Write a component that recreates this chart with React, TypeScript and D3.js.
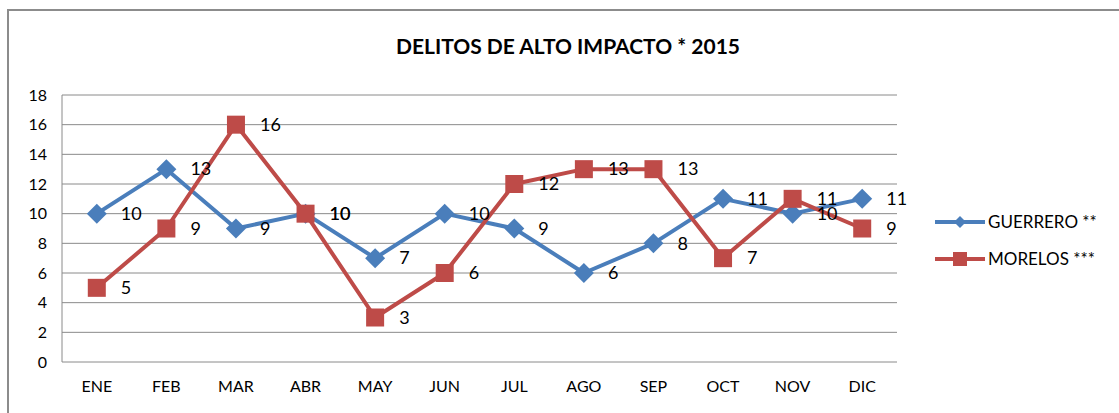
import { useMemo } from "react";
import * as d3 from "d3";

const months = ["ENE", "FEB", "MAR", "ABR", "MAY", "JUN", "JUL", "AGO", "SEP", "OCT", "NOV", "DIC"];
const guerrero = [10, 13, 9, 10, 7, 10, 9, 6, 8, 11, 10, 11];
const morelos = [5, 9, 16, 10, 3, 6, 12, 13, 13, 7, 11, 9];
const yTicks = [0, 2, 4, 6, 8, 10, 12, 14, 16, 18];

const BLUE = "#4a7ebb";
const RED = "#be4b48";
const FONT = "Lato, 'Liberation Sans', sans-serif";

export default function App() {
    const W = 1119, H = 413;
    const plot = { left: 62, right: 897, top: 95, bottom: 362 };

    const x = useMemo(() => d3.scaleBand<string>()
        .domain(months)
        .range([plot.left, plot.right]), []);
    const y = useMemo(() => d3.scaleLinear()
        .domain([0, 18])
        .range([plot.bottom, plot.top]), []);

    const cx = (m: string) => (x(m) ?? 0) + x.bandwidth() / 2;
    const line = d3.line<number>()
        .x((_, i) => cx(months[i]))
        .y(d => y(d));

    const diamond = (px: number, py: number, r: number) =>
        `M${px},${py - r}L${px + r},${py}L${px},${py + r}L${px - r},${py}Z`;

    return <svg width={W} height={H} style={{ position: "absolute", left: 0, top: 0 }} fontFamily={FONT}>
        <rect x={0} y={0} width={W} height={H} fill="white" />
        <rect x={8} y={10} width={1130} height={420} fill="none" stroke="#8c8c8c" strokeWidth={2} />
        <text x={568} y={54} textAnchor="middle" fontSize={21} fontWeight="bold" fill="#000">
            DELITOS DE ALTO IMPACTO * 2015
        </text>

        {/* grid */}
        {yTicks.map(t => <g key={t}>
            <line x1={plot.left} x2={plot.right} y1={y(t)} y2={y(t)} stroke="#8a8a8a" strokeWidth={1} />
            <text x={47} y={y(t)} dy="0.35em" textAnchor="end" fontSize={16} fill="#000">{t}</text>
        </g>)}
        <line x1={plot.left} x2={plot.left} y1={plot.top} y2={plot.bottom} stroke="#8a8a8a" strokeWidth={1} />

        {months.map(m => <text key={m} x={cx(m)} y={392} textAnchor="middle" fontSize={16} fill="#000">{m}</text>)}

        {/* guerrero */}
        <path d={line(guerrero) ?? ""} fill="none" stroke={BLUE} strokeWidth={4} strokeLinejoin="round" />
        {guerrero.map((v, i) => <path key={i} d={diamond(cx(months[i]), y(v), 10)} fill={BLUE} />)}

        {/* morelos */}
        <path d={line(morelos) ?? ""} fill="none" stroke={RED} strokeWidth={4} strokeLinejoin="round" />
        {morelos.map((v, i) => <rect key={i} x={cx(months[i]) - 9} y={y(v) - 9} width={18} height={18} fill={RED} />)}

        {/* labels */}
        {guerrero.map((v, i) => <text key={"g" + i} x={cx(months[i]) + 24} y={y(v)} dy="0.35em" fontSize={18} fill="#000">{v}</text>)}
        {morelos.map((v, i) => <text key={"m" + i} x={cx(months[i]) + 24} y={y(v)} dy="0.35em" fontSize={18} fill="#000">{v}</text>)}

        {/* legend */}
        <line x1={935} x2={985} y1={222} y2={222} stroke={BLUE} strokeWidth={4} />
        <path d={diamond(960, 222, 6)} fill={BLUE} />
        <text x={988} y={222} dy="0.35em" fontSize={17} fill="#000">GUERRERO **</text>
        <line x1={935} x2={985} y1={259} y2={259} stroke={RED} strokeWidth={4} />
        <rect x={953} y={252} width={14} height={14} fill={RED} />
        <text x={988} y={259} dy="0.35em" fontSize={17} fill="#000">MORELOS ***</text>
    </svg>;
}
